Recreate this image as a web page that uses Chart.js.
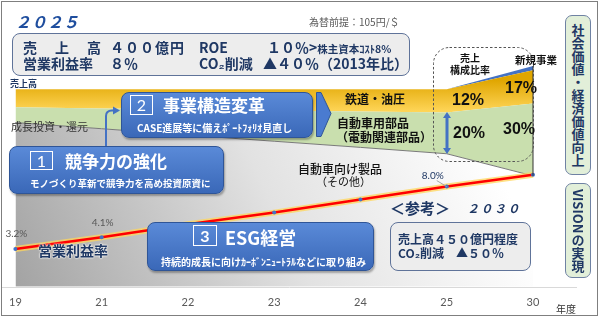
<!DOCTYPE html>
<html lang="ja">
<head>
<meta charset="utf-8">
<script src="https://cdn.jsdelivr.net/npm/chart.js@4"></script>
<style>
html, body { margin: 0; padding: 0; background: #fff; }
#wrap { position: relative; width: 600px; height: 319px; overflow: hidden; font-family: "Noto Sans CJK JP", sans-serif; }
#chart, #shapes { position: absolute; left: 0; top: 0; }
.t { position: absolute; white-space: nowrap; line-height: 1; }
.nv { color: #1f3864; font-weight: bold; }
.bk { color: #111; font-weight: bold; }
.wh { color: #fff; font-weight: bold; }
.pct { font-family: "Liberation Sans", Arial, sans-serif; font-weight: bold; color: #111; font-size: 16px; }
.bluebox { position: absolute; border: 1px solid #2f5597; border-radius: 8px; background: linear-gradient(#5a8ad8, #3a68b8); box-shadow: 1px 2px 2px rgba(0,0,0,.3); }
.num { position: absolute; border: 1px solid #fff; color: #fff; text-align: center; font-family: Lato, sans-serif; box-sizing: border-box; }
.graybox { position: absolute; border: 1px solid #5f7399; border-radius: 8px; background: #ededed; }
.side { position: absolute; left: 565px; width: 26px; border: 1px solid #6f82a3; border-radius: 7px; background: #e2efd9; display: flex; align-items: center; justify-content: center; box-sizing: border-box; }
.side span { writing-mode: vertical-rl; font-size: 13px; font-weight: bold; color: #1f3864; line-height: 1; }
#frame { position: absolute; left: 1px; top: 1px; width: 595px; height: 313px; border: 1px solid #7f7f7f; }
</style>
</head>
<body>
<div id="wrap">
  <canvas id="chart" width="600" height="319"></canvas>

  <svg id="shapes" width="600" height="319">
    <rect x="433.5" y="47.5" width="100" height="114" rx="16" fill="none" stroke="#555" stroke-width="1" stroke-dasharray="2.5 2"/>
    <path d="M106 146 V116 Q106 110.5 112 110.5 H114" fill="none" stroke="#4472c4" stroke-width="2"/>
    <path d="M113 106.5 L120 110.5 L113 114.5 Z" fill="#4472c4"/>
    <path d="M316.5 92.5 H321 L331 113.5 L321 136.5 H316.5 Z" fill="#4a7bd0" stroke="#2f5597" stroke-width="1"/>
    <path d="M447 112 L451 118 L448.5 118 L448.5 148 L451 148 L447 154 L443 148 L445.5 148 L445.5 118 L443 118 Z" fill="#4472c4"/>
  </svg>

  <!-- header -->
  <div class="t" style="left:15px;top:13px;font-size:16px;font-weight:bold;font-style:italic;color:#1f4e9e;">２０２５</div>
  <div class="t" style="left:309px;top:17px;font-size:10px;color:#595959;">為替前提：105円/＄</div>
  <div class="graybox" style="left:12px;top:33px;width:396px;height:41px;"></div>
  <div class="t nv" style="left:23px;top:40px;font-size:14px;">売</div>
  <div class="t nv" style="left:55px;top:40px;font-size:14px;">上</div>
  <div class="t nv" style="left:87px;top:40px;font-size:14px;">高</div>
  <div class="t nv" style="left:110px;top:40px;font-size:14px;letter-spacing:1px;">４００億円</div>
  <div class="t nv" style="left:23px;top:56px;font-size:14px;">営業利益率</div>
  <div class="t nv" style="left:110px;top:56px;font-size:14px;">８％</div>
  <div class="t nv" style="left:199px;top:40px;font-size:14px;">ROE</div>
  <div class="t nv" style="left:267px;top:40px;font-size:14px;">１０％&gt;<span style="font-size:10.5px;">株主資本ｺｽﾄ8%</span></div>
  <div class="t nv" style="left:199px;top:56px;font-size:14px;">CO₂削減</div>
  <div class="t nv" style="left:263px;top:56px;font-size:14px;">▲４０％（2013年比）</div>

  <!-- chart labels -->
  <div class="t nv" style="left:10px;top:79px;font-size:9px;">売上高</div>
  <div class="t" style="left:11px;top:121px;font-size:11px;color:#333;">成長投資・還元</div>
  <div class="t bk" style="left:345px;top:93px;font-size:12px;">鉄道・油圧</div>
  <div class="t bk" style="left:337px;top:117px;font-size:12px;">自動車用部品</div>
  <div class="t bk" style="left:336px;top:131px;font-size:12px;">（電動関連部品）</div>
  <div class="t" style="left:298px;top:163px;font-size:12px;color:#111;font-weight:500;">自動車向け製品</div>
  <div class="t" style="left:316px;top:176px;font-size:11px;color:#111;">（その他）</div>
  <div class="t pct" style="left:452px;top:92px;">12%</div>
  <div class="t pct" style="left:505px;top:80px;">17%</div>
  <div class="t pct" style="left:453px;top:125px;">20%</div>
  <div class="t pct" style="left:503px;top:121px;">30%</div>
  <div class="t bk" style="left:449px;top:52px;width:42px;text-align:center;font-size:10px;line-height:12px;">売上<br>構成比率</div>
  <div class="t bk" style="left:515px;top:55px;font-size:10.5px;">新規事業</div>
  <div class="t nv" style="left:38px;top:243px;font-size:14px;text-shadow:0 0 2px #fff,0 0 2px #fff;">営業利益率</div>

  <!-- measure boxes -->
  <div class="bluebox" style="left:121px;top:92px;width:190px;height:44px;"></div>
  <div class="num" style="left:130px;top:95px;width:23px;height:20px;font-size:16px;line-height:18px;">2</div>
  <div class="t wh" style="left:163px;top:96px;font-size:17px;">事業構造変革</div>
  <div class="t wh" style="left:137px;top:123px;font-size:10px;">CASE進展等に備えﾎﾟｰﾄﾌｫﾘｵ見直し</div>

  <div class="bluebox" style="left:9px;top:146px;width:213px;height:46px;"></div>
  <div class="num" style="left:30px;top:151px;width:23px;height:19px;font-size:16px;line-height:17px;">1</div>
  <div class="t wh" style="left:65px;top:152px;font-size:17px;">競争力の強化</div>
  <div class="t wh" style="left:30px;top:179px;font-size:9.5px;">モノづくり革新で競争力を高め投資原資に</div>

  <div class="bluebox" style="left:147px;top:222px;width:225px;height:47px;"></div>
  <div class="num" style="left:193px;top:225px;width:24px;height:21px;font-size:16px;line-height:19px;font-weight:bold;">3</div>
  <div class="t wh" style="left:225px;top:228px;font-size:18px;">ESG経営</div>
  <div class="t wh" style="left:161px;top:257px;font-size:10px;">持続的成長に向けｶｰﾎﾞﾝﾆｭｰﾄﾗﾙなどに取り組み</div>

  <!-- 2030 -->
  <div class="t nv" style="left:390px;top:200px;font-size:15px;">＜参考＞</div>
  <div class="t nv" style="left:467px;top:202px;font-size:12px;font-style:italic;letter-spacing:1.5px;">２０３０</div>
  <div class="graybox" style="left:390px;top:222px;width:139px;height:47px;"></div>
  <div class="t nv" style="left:398px;top:233px;font-size:12px;">売上高４５０億円程度</div>
  <div class="t nv" style="left:398px;top:247px;font-size:12px;">CO₂削減　▲５０％</div>

  <!-- side -->
  <div class="side" style="top:15px;height:160px;"><span>社会価値・経済価値向上</span></div>
  <div class="side" style="top:183px;height:95px;"><span>VISIONの実現</span></div>

  <div class="t" style="left:556px;top:304px;font-size:10px;color:#333;">年度</div>
  <div id="frame"></div>
</div>

<script>
// 年度
const categories = ['19', '21', '22', '23', '24', '25', '30'];
// 営業利益率 (%)
const opMargin = [3.2, 4.1, 5.1, 6.0, 7.0, 8.0, 8.9];
const marginLabels = ['3.2%', '4.1%', '', '', '', '8.0%', ''];
// 売上高の構成 (積み上げ, 相対値)
const salesOther = [72.1, 69.4, 66.6, 63.9, 61.2, 58.4, 48.7];
const salesAuto = [6.7, 8.9, 11.3, 13.5, 15.8, 18.1, 31.8];
const salesRail = [7.9, 8.4, 8.8, 9.3, 9.7, 10.2, 14.6];
const salesNew = [0, 0, 0, 0, 0, 0, 1.8];

function otherFill(c) {
    const {ctx, chartArea: a} = c.chart;
    if (!a) return '#ddd';
    const g = ctx.createLinearGradient(a.left, a.bottom, a.left + a.width * 0.85, a.top + 20);
    g.addColorStop(0, '#a3a3a3');
    g.addColorStop(0.55, '#e2e2e2');
    g.addColorStop(1, '#ffffff');
    return g;
}

function railFill(c) {
    const {ctx, chartArea: a} = c.chart;
    if (!a) return '#ffc000';
    const g = ctx.createLinearGradient(0, 80, 0, 112);
    g.addColorStop(0, '#e0a600');
    g.addColorStop(1, '#ffd659');
    return g;
}

const labelStyle = {
    0: {dx: 1, dy: -15, color: '#595959'},
    1: {dx: 1, dy: -15, color: '#595959'},
    5: {dx: -14, dy: -11, color: '#1f3864', leader: true}
};

const marks = {
    id: 'marks',
    afterDatasetsDraw(chart) {
        const {ctx, chartArea: a, scales: {x, y2}} = chart;
        ctx.save();
        // axis line
        ctx.strokeStyle = '#d9d9d9';
        ctx.lineWidth = 1;
        ctx.beginPath();
        ctx.moveTo(2, Math.round(a.bottom) + 0.5);
        ctx.lineTo(577, Math.round(a.bottom) + 0.5);
        ctx.stroke();

        // right edge of the stacked areas
        const last = categories.length - 1;
        const px = x.getPixelForValue(last);
        const top = y2.getPixelForValue(salesOther[last] + salesAuto[last] + salesRail[last] + salesNew[last]);
        const bot = y2.getPixelForValue(salesOther[last]);
        ctx.strokeStyle = '#333';
        ctx.beginPath();
        ctx.moveTo(px, top);
        ctx.lineTo(px, bot);
        ctx.stroke();

        // value labels
        const pts = chart.getDatasetMeta(4).data;
        ctx.font = '10px Lato, sans-serif';
        ctx.textAlign = 'center';
        ctx.textBaseline = 'middle';
        marginLabels.forEach((txt, i) => {
            if (!txt) return;
            const s = labelStyle[i];
            const p = pts[i];
            if (s.leader) {
                ctx.strokeStyle = '#a6a6a6';
                ctx.beginPath();
                ctx.moveTo(p.x + s.dx + 4, p.y + s.dy + 5);
                ctx.lineTo(p.x, p.y);
                ctx.stroke();
            }
            ctx.fillStyle = s.color;
            ctx.fillText(txt, p.x + s.dx, p.y + s.dy);
        });
        ctx.restore();
    }
};

const chart = document.querySelector('#chart').getContext('2d');

new Chart(chart, {
    type: 'line',
    data: {
        labels: categories,
        datasets: [
            {
                label: '自動車向け製品（その他）',
                data: salesOther,
                yAxisID: 'y2',
                backgroundColor: otherFill,
                borderColor: '#7a7a7a',
                borderWidth: 1,
                fill: 'origin',
                pointRadius: 0,
                order: 2
            },
            {
                label: '自動車用部品',
                data: salesAuto,
                yAxisID: 'y2',
                backgroundColor: '#c9dfae',
                borderWidth: 0,
                fill: '-1',
                pointRadius: 0,
                order: 2
            },
            {
                label: '鉄道・油圧',
                data: salesRail,
                yAxisID: 'y2',
                backgroundColor: railFill,
                borderWidth: 0,
                fill: '-1',
                pointRadius: 0,
                order: 2
            },
            {
                label: '新規事業',
                data: salesNew,
                yAxisID: 'y2',
                backgroundColor: '#4472c4',
                borderWidth: 0,
                fill: '-1',
                pointRadius: 0,
                order: 2
            },
            {
                label: '営業利益率',
                data: opMargin,
                yAxisID: 'y',
                borderColor: '#ff0000',
                borderWidth: 2.5,
                pointRadius: 2,
                pointBackgroundColor: '#4472c4',
                pointBorderWidth: 0,
                fill: false,
                order: 0
            },
            {
                label: 'glow',
                data: opMargin,
                yAxisID: 'y',
                borderColor: 'rgba(255, 214, 90, 0.75)',
                borderWidth: 6,
                pointRadius: 0,
                fill: false,
                order: 1
            }
        ]
    },
    options: {
        responsive: false,
        animation: false,
        layout: {padding: {left: 12, right: 67, top: 59, bottom: 1}},
        elements: {line: {tension: 0}},
        plugins: {legend: {display: false}, tooltip: {enabled: false}},
        scales: {
            x: {
                offset: false,
                grid: {display: false, drawTicks: false},
                border: {display: false},
                ticks: {font: {family: 'Lato', size: 11}, color: '#595959', padding: 9, maxRotation: 0, autoSkip: false}
            },
            y: {display: false, min: 0.3, max: 17.8},
            y2: {display: false, stacked: true, min: 0, max: 100}
        }
    },
    plugins: [marks]
});
</script>
</body>
</html>
